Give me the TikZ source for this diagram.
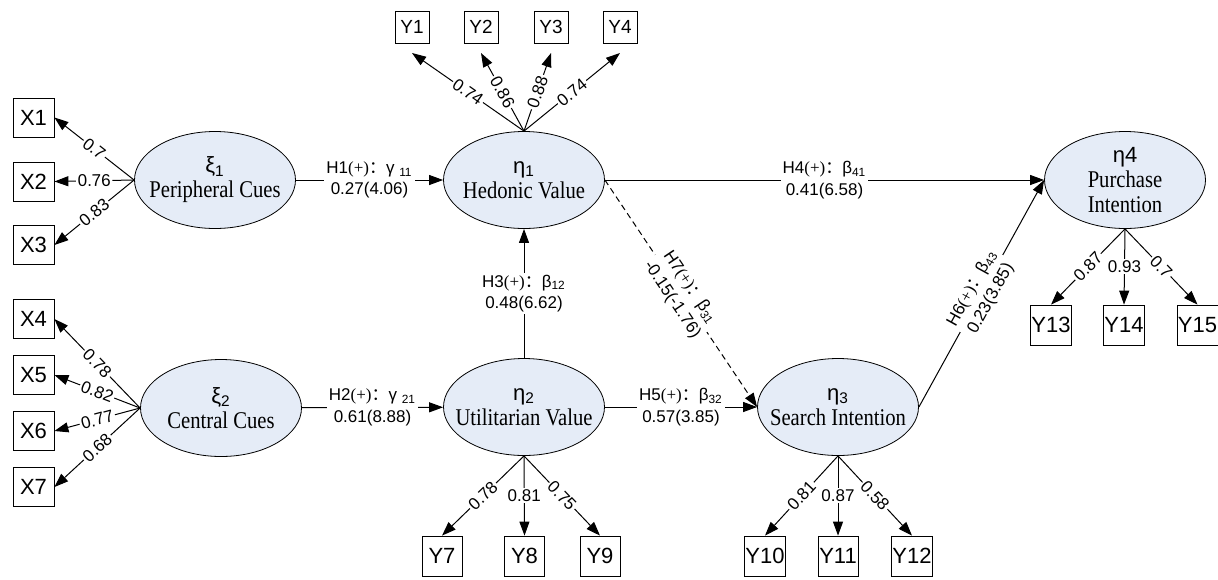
\documentclass[tikz,border=0pt]{standalone}
\usepackage{fontspec}
\setmainfont{Liberation Serif}
\setsansfont{Liberation Sans}
\newfontfamily\cjk{Noto Sans CJK SC}
\newfontfamily\latfont[FakeStretch=0.86]{Liberation Serif}
\usetikzlibrary{shapes.geometric,arrows.meta}
\definecolor{latfill}{RGB}{229,236,247}
\tikzset{
  latent/.style={ellipse,draw,fill=latfill,minimum width=80.5pt,minimum height=48.5pt,inner sep=0pt},
  latname/.style={align=center,inner sep=0pt,font=\sffamily\fontsize{11}{12.5}\selectfont},
  ind/.style={draw,minimum width=20.5pt,minimum height=19.5pt,inner sep=0.5pt,font=\sffamily\fontsize{11}{12}\selectfont},
  indtop/.style={draw,minimum width=17pt,minimum height=16pt,inner sep=0.5pt,outer sep=5pt,font=\sffamily\fontsize{9.5}{10}\selectfont},
  arr/.style={line width=0.5pt,-{Triangle[length=7pt,width=5pt]}},
  load/.style={fill=white,inner sep=0.8pt,font=\sffamily\fontsize{8.5}{9}\selectfont},
  hyp/.style={fill=white,align=center,inner sep=1pt,font=\sffamily\fontsize{8.5}{10.8}\selectfont}
}
\begin{document}
\begin{tikzpicture}[x=0.5pt,y=-0.5pt]
        \useasboundingbox (0,0) rectangle (1218,579);
        % latent variables
        \node[latent,label={[latname]center:ξ\textsubscript{1}\\{\latfont\fontsize{12}{12.5}\selectfont Peripheral Cues}}] (xi1) at (215,180) {};
        \node[latent,label={[latname]center:ξ\textsubscript{2}\\{\latfont\fontsize{12}{12.5}\selectfont Central Cues}}] (xi2) at (221,408) {};
        \node[latent,label={[latname]center:η\textsubscript{1}\\{\latfont\fontsize{12}{12.5}\selectfont Hedonic Value}}] (eta1) at (524,180) {};
        \node[latent,label={[latname]center:η\textsubscript{2}\\{\latfont\fontsize{12}{12.5}\selectfont Utilitarian Value}}] (eta2) at (524,407) {};
        \node[latent,label={[latname]center:η\textsubscript{3}\\{\latfont\fontsize{12}{12.5}\selectfont Search Intention}}] (eta3) at (838,407) {};
        \node[latent,label={[latname]center:η4\\{\latfont\fontsize{12}{12.5}\selectfont Purchase}\\{\latfont\fontsize{12}{12.5}\selectfont Intention}}] (eta4) at (1125,180) {};
        % indicators
        \foreach \n/\y in {1/117.5,2/181.5,3/245,4/319,5/375,6/431,7/487}{
            \node[ind] (x\n) at (33.5,\y) {X\n};
        }
        \foreach \n/\x in {1/412,2/481,3/551,4/620}{
            \node[indtop] (y\n) at (\x,27) {Y\n};
        }
        \foreach \n/\x in {7/442,8/524.5,9/600,10/765,11/838,12/912}{
            \node[ind,minimum width=20pt,minimum height=20pt] (y\n) at (\x,556) {Y\n};
        }
        \foreach \n/\x in {13/1051,14/1124,15/1197.5}{
            \node[ind,minimum width=20pt,minimum height=20pt] (y\n) at (\x,325) {Y\n};
        }
        % loadings
        \foreach \m/\l in {x1/0.7,x2/0.76,x3/0.83}{
            \draw[arr] (xi1.west) -- node[load,sloped]{\l} (\m.east);
        }
        \foreach \m/\l in {x4/0.78,x5/0.82,x6/0.77,x7/0.68}{
            \draw[arr] (xi2.west) -- node[load,sloped]{\l} (\m.east);
        }
        \foreach \m/\l in {y1/0.74,y2/0.86,y3/0.88,y4/0.74}{
            \draw[arr] (eta1.north) -- node[load,sloped]{\l} (\m.south);
        }
        \draw[arr] (eta2.south) -- node[load,sloped]{0.78} (y7.north);
        \draw[arr] (eta2.south) -- node[load]{0.81} (y8.north);
        \draw[arr] (eta2.south) -- node[load,sloped]{0.75} (y9.north);
        \draw[arr] (eta3.south) -- node[load,sloped]{0.81} (y10.north);
        \draw[arr] (eta3.south) -- node[load]{0.87} (y11.north);
        \draw[arr] (eta3.south) -- node[load,sloped]{0.58} (y12.north);
        \draw[arr] (eta4.south) -- node[load,sloped]{0.87} (y13.north);
        \draw[arr] (eta4.south) -- node[load]{0.93} (y14.north);
        \draw[arr] (eta4.south) -- node[load,sloped]{0.7} (y15.north);
        % structural paths
        \draw[arr] (xi1) -- node[hyp]{H1{\rmfamily(+)}{\cjk ：}γ~\textsubscript{11}\\0.27(4.06)} (eta1);
        \draw[arr] (xi2) -- node[hyp]{H2{\rmfamily(+)}{\cjk ：}γ~\textsubscript{21}\\0.61(8.88)} (eta2);
        \draw[arr] (eta2) -- node[hyp]{H3{\rmfamily(+)}{\cjk ：}β\textsubscript{12}\\0.48(6.62)} (eta1);
        \draw[arr] (eta1.east) -- node[hyp]{H4{\rmfamily(+)}{\cjk ：}β\textsubscript{41}\\0.41(6.58)} (eta4.west);
        \draw[arr] (eta2) -- node[hyp]{H5{\rmfamily(+)}{\cjk ：}β\textsubscript{32}\\0.57(3.85)} (eta3);
        \draw[arr] (eta3.east) -- node[hyp,sloped]{H6{\rmfamily(+)}{\cjk ：}β\textsubscript{43}\\0.23(3.85)} (eta4.west);
        \draw[arr,dash pattern=on 3pt off 2pt] (eta1.east) -- node[hyp,sloped]{H7{\rmfamily(+)}{\cjk ：}β\textsubscript{31}\\-0.15(-1.76)} (eta3.west);
\end{tikzpicture}
\end{document}
